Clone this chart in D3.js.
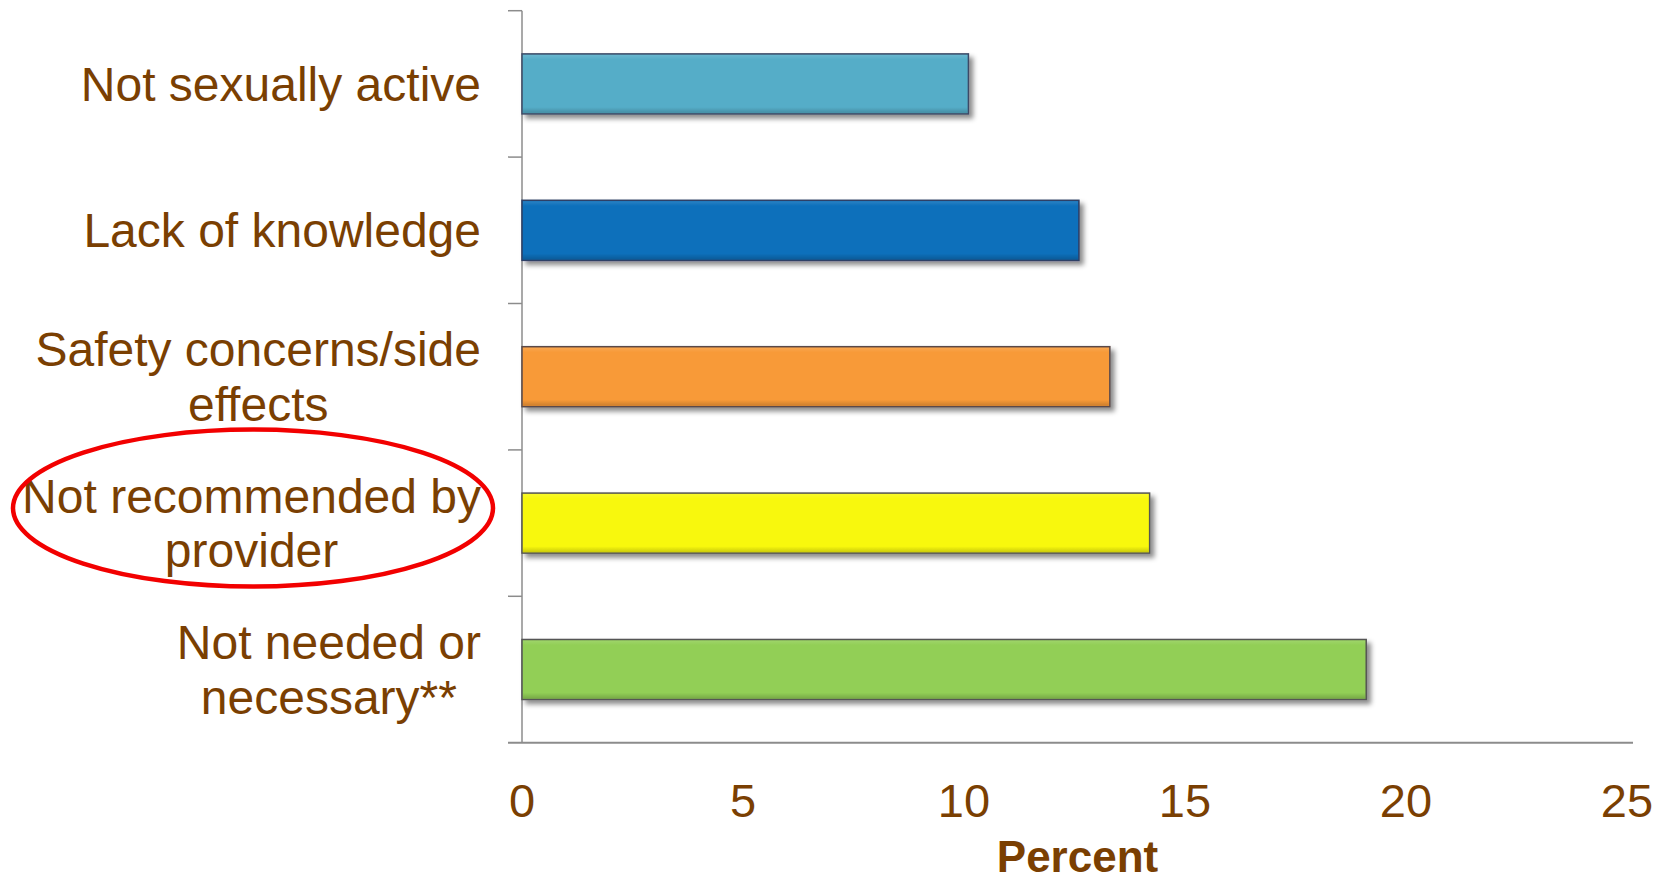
<!DOCTYPE html>
<html>
<head>
<meta charset="utf-8">
<script src="https://cdn.jsdelivr.net/npm/d3@7"></script>
<style>
  body { margin: 0; background: #fff; }
  text { font-family: "Liberation Sans", Arial, sans-serif; fill: #7a3f02; }
</style>
</head>
<body>
<svg width="1665" height="882"></svg>
<script>
// reasons (top to bottom) and their percent values
const reasons = [
  ["Not sexually active"],
  ["Lack of knowledge"],
  ["Safety concerns/side", "effects"],
  ["Not recommended by", "provider"],
  ["Not needed or", "necessary**"]
];
const percents = [10.1, 12.6, 13.3, 14.2, 19.1];
const barColors = ["#55adc8", "#0a70bb", "#f89a38", "#f8f80a", "#92cf56"];
const edgeColors = ["#3e4a66", "#2e3f66", "#5a4a4a", "#555555", "#555555"];
const xTicks = [0, 5, 10, 15, 20, 25];
const highlighted = 3; // circled in red

var svg = d3.select("svg");

var x = d3.scaleLinear().domain([0, 25]).range([522, 1627]);
var y = d3.scaleBand()
    .domain(d3.range(reasons.length))
    .range([10.7, 742.7])
    .paddingInner(0.59)
    .paddingOuter(0.295);

// drop shadow + a little bevel gradient for the bars
var defs = svg.append("defs");
var f = defs.append("filter").attr("id", "shadow")
    .attr("x", "-5%").attr("y", "-20%").attr("width", "115%").attr("height", "160%");
f.append("feDropShadow")
    .attr("dx", 4).attr("dy", 4).attr("stdDeviation", 2.5)
    .attr("flood-color", "#000").attr("flood-opacity", 0.45);

var g = defs.append("linearGradient").attr("id", "bevel")
    .attr("x1", 0).attr("y1", 0).attr("x2", 0).attr("y2", 1);
g.append("stop").attr("offset", "0").attr("stop-color", "#fff").attr("stop-opacity", 0.12);
g.append("stop").attr("offset", "0.08").attr("stop-color", "#fff").attr("stop-opacity", 0);
g.append("stop").attr("offset", "0.9").attr("stop-color", "#000").attr("stop-opacity", 0);
g.append("stop").attr("offset", "1").attr("stop-color", "#000").attr("stop-opacity", 0.18);

// axes lines
var axisColor = "#8c8c8c";
svg.append("line")
    .attr("x1", x(0)).attr("x2", x(0))
    .attr("y1", y.range()[0]).attr("y2", y.range()[1])
    .attr("stroke", axisColor).attr("stroke-width", 1.5);
svg.append("line")
    .attr("x1", x(0) - 14).attr("x2", 1633)
    .attr("y1", y.range()[1]).attr("y2", y.range()[1])
    .attr("stroke", axisColor).attr("stroke-width", 2);

// category separators (ticks on the y axis)
var boundaries = d3.range(reasons.length).map(i => y(i) - y.step() * y.paddingOuter());
svg.selectAll(".ytick").data(boundaries).enter().append("line")
    .attr("x1", x(0) - 14).attr("x2", x(0))
    .attr("y1", d => d).attr("y2", d => d)
    .attr("stroke", axisColor).attr("stroke-width", 1.5);

// bars
var bars = svg.selectAll(".bar").data(percents).enter().append("g");
bars.append("rect")
    .attr("x", x(0))
    .attr("y", (d, i) => y(i))
    .attr("width", d => x(d) - x(0))
    .attr("height", y.bandwidth())
    .attr("fill", (d, i) => barColors[i])
    .attr("stroke", (d, i) => edgeColors[i])
    .attr("stroke-width", 1.5)
    .attr("filter", "url(#shadow)");
bars.append("rect")
    .attr("x", x(0) + 1)
    .attr("y", (d, i) => y(i) + 1)
    .attr("width", d => x(d) - x(0) - 2)
    .attr("height", y.bandwidth() - 2)
    .attr("fill", "url(#bevel)");

// category labels: lines centered, block right aligned
var labelRight = 481, lineH = 54.5, fontSize = 48;
reasons.forEach(function(lines, i) {
  var cy = y(i) + y.bandwidth() / 2;
  var grp = svg.append("g");
  var texts = lines.map(function(l, k) {
    return grp.append("text")
        .attr("font-size", fontSize)
        .attr("text-anchor", "middle")
        .attr("y", cy + 17 + (k - (lines.length - 1) / 2) * lineH)
        .text(l);
  });
  var w = d3.max(texts, t => t.node().getComputedTextLength());
  texts.forEach(t => t.attr("x", labelRight - w / 2));
});

// x tick labels
svg.selectAll(".xlab").data(xTicks).enter().append("text")
    .attr("x", d => x(d))
    .attr("y", 817)
    .attr("text-anchor", "middle")
    .attr("font-size", 47)
    .text(d => d);

svg.append("text")
    .attr("x", (x(0) + 1633) / 2)
    .attr("y", 872)
    .attr("text-anchor", "middle")
    .attr("font-size", 44)
    .attr("font-weight", "bold")
    .text("Percent");

// red ellipse around the highlighted label
svg.append("ellipse")
    .attr("cx", 253)
    .attr("cy", y(highlighted) + y.bandwidth() / 2 - 15)
    .attr("rx", 240)
    .attr("ry", 78.5)
    .attr("fill", "none")
    .attr("stroke", "#f20000")
    .attr("stroke-width", 4.5);
</script>
</body>
</html>
